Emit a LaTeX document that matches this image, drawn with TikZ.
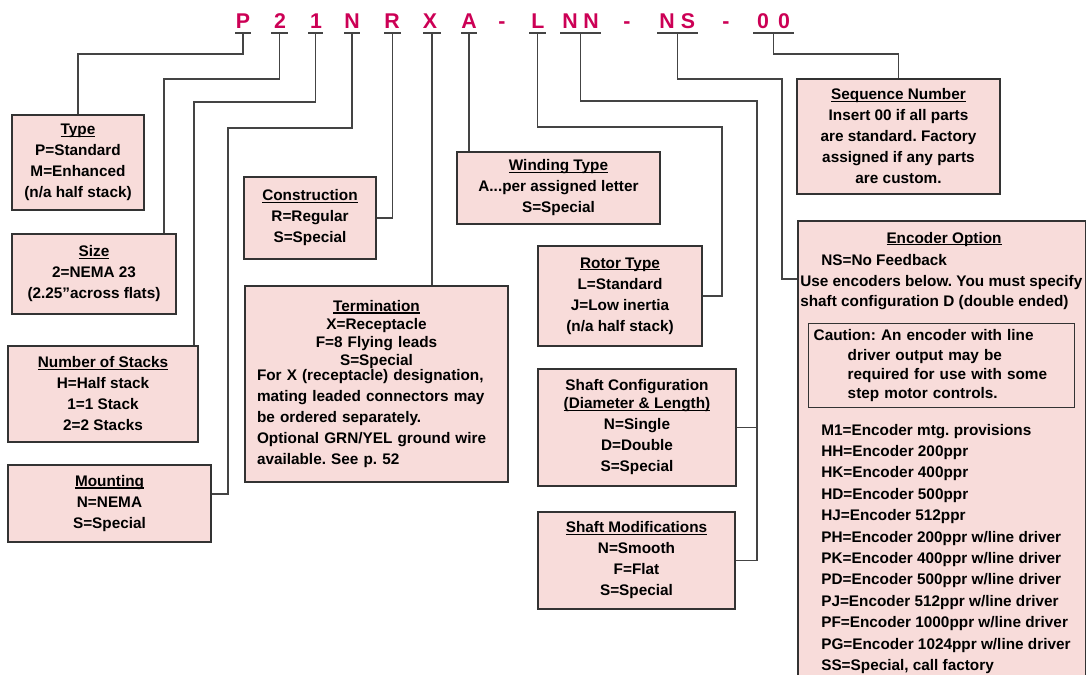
\documentclass[tikz,border=0pt]{standalone}
\usepackage{fontspec}
\setmainfont{Liberation Sans}
\definecolor{codered}{RGB}{204,0,85}
\definecolor{boxfill}{RGB}{248,220,218}
\definecolor{boxline}{RGB}{51,51,51}
\definecolor{wire}{RGB}{68,68,68}
\setlength\parindent{0pt}
\frenchspacing
\newlength\ttlwd
\newcommand\ttl[1]{\settowidth\ttlwd{#1}\makebox[0pt][l]{\rule[-1.6pt]{\ttlwd}{0.9pt}}#1}
\begin{document}
\begin{tikzpicture}[x=0.75pt, y=-0.75pt,
        codeltr/.style={text=codered, font=\fontsize{16}{16}\selectfont\bfseries, anchor=base, inner sep=0pt},
        box/.style={draw=boxline, fill=boxfill, line width=1.4pt, align=center, inner sep=0pt, font=\fontsize{11.5}{15.75}\selectfont\bfseries},
        txt/.style={font=\fontsize{11.5}{15.75}\selectfont\bfseries, inner sep=0pt},
        conn/.style={draw=wire, line width=1.4pt}
    ]
    \useasboundingbox (0,0) rectangle (1086,675);
    \clip (0,0) rectangle (1086,675);
    % Part number
    \foreach \c/\x [count=\i] in {P/243,2/280,1/316,N/352,R/392,X/430,A/469,-/502,L/538,N/570,N/591,-/627,N/667,S/688,-/726,0/763,0/784}
        \node[codeltr] (c\i) at (\x,28) {\c};
    \foreach \n/\a/\b in {P/235/251,2/271/288,1/308/323,N/344/360,R/384/401,X/423/441,A/461/477,L/529/546,NN/560/601,NS/657/698,Z/753/794} {
        \draw[conn] (\a,33) -- (\b,33);
        \coordinate (b\n) at ({(\a+\b)/2},33);
    }
    % Boxes
    \node[box, minimum width=99pt, minimum height=71.25pt] (type) at (78,162.5) {\ttl{Type}\\P=Standard\\M=Enhanced\\(n/a half stack)};
    \node[box, minimum width=123pt, minimum height=60pt] (size) at (94,274) {\ttl{Size}\\2=NEMA 23\\(2.25”across flats)};
    \node[box, minimum width=142.5pt, minimum height=72pt] (stacks) at (103,394) {\ttl{Number of Stacks}\\H=Half stack\\1=1 Stack\\2=2 Stacks};
    \node[box, minimum width=152.25pt, minimum height=57.75pt] (mount) at (109.5,503.5) {\ttl{Mounting}\\N=NEMA\\S=Special};
    \node[box, minimum width=99pt, minimum height=61.5pt] (constr) at (310,218) {\ttl{Construction}\\R=Regular\\S=Special};
    \node[box, minimum width=197.25pt, minimum height=147pt, text width=179.25pt, align=left, inner xsep=9pt] (term) at (376.5,384) {{\centering\ttl{Termination}\\[-2.25pt]X=Receptacle\\[-2.25pt]F=8 Flying leads\\[-2.25pt]S=Special\par}\vspace{-4.5pt}For X (receptacle) designation,\\mating leaded connectors may\\be ordered separately.\\Optional GRN/YEL ground wire\\available. See p. 52};
    \node[box, minimum width=152.25pt, minimum height=54pt] (wind) at (558.5,188) {\ttl{Winding Type}\\A...per assigned letter\\S=Special};
    \node[box, minimum width=123pt, minimum height=75pt] (rotor) at (620,296) {\ttl{Rotor Type}\\L=Standard\\J=Low inertia\\(n/a half stack)};
    \node[box, minimum width=148.5pt, minimum height=87.75pt] (shcfg) at (637,427.5) {Shaft Configuration\\[-2.25pt]\ttl{(Diameter \& Length)}\\N=Single\\D=Double\\S=Special};
    \node[box, minimum width=147.75pt, minimum height=72.75pt] (shmod) at (636.5,560.5) {\ttl{Shaft Modifications}\\N=Smooth\\F=Flat\\S=Special};
    \node[box, minimum width=152.25pt, minimum height=86.25pt] (seq) at (898.5,136.5) {\ttl{Sequence Number}\\Insert 00 if all parts\\are standard. Factory\\assigned if any parts\\are custom.};
    % Encoder box
    \node[box, minimum width=216pt, minimum height=360pt, anchor=north west] (enc) at (797,220) {};
    \node[txt, anchor=base] (encttl) at (944,243) {\ttl{Encoder Option}};
    \node[txt, anchor=base west] (encns) at (821,265) {NS=No Feedback};
    \node[txt, anchor=base west] (encuse) at (800,286) {Use encoders below. You must specify};
    \node[txt, anchor=base west] (encshaft) at (800,306) {shaft configuration D (double ended)};
    \node[draw=boxline, line width=1.1pt, anchor=north west, minimum width=199.5pt, minimum height=63pt, text width=192pt, inner xsep=3.75pt, inner ysep=0pt, align=left, font=\fontsize{11.5}{14.5}\selectfont\bfseries] (caution) at (808,323) {Caution: An encoder with line\\\hspace*{25.5pt}driver output may be\\\hspace*{25.5pt}required for use with some\\\hspace*{25.5pt}step motor controls.};
    \foreach \t [count=\i] in {M1=Encoder mtg. provisions,HH=Encoder 200ppr,HK=Encoder 400ppr,HD=Encoder 500ppr,HJ=Encoder 512ppr,PH=Encoder 200ppr w/line driver,PK=Encoder 400ppr w/line driver,PD=Encoder 500ppr w/line driver,PJ=Encoder 512ppr w/line driver,PF=Encoder 1000ppr w/line driver,PG=Encoder 1024ppr w/line driver,{SS=Special, call factory}}
        \node[txt, anchor=base west] (enc\i) at (821,{435+21.4*(\i-1)}) {\t};
    % Connectors
    \draw[conn] (bP) -- ++(0,21) -| (type.north);
    \draw[conn] (b2) -- ++(0,46) -| ([xshift=-9.75pt]size.north east);
    \draw[conn] (b1) -- ++(0,69) -| ([xshift=-3.75pt]stacks.north east);
    \draw[conn] (bN) -- ++(0,95) -| ([xshift=12pt,yshift=7pt]mount.east) -- ([yshift=7pt]mount.east);
    \draw[conn] (bR) |- (constr.east);
    \draw[conn] (bX) -- (bX |- term.north);
    \draw[conn] (bA) -- (bA |- wind.north);
    \draw[conn] (bL) -- ++(0,94) -| ([xshift=14.25pt]rotor.east) -- (rotor.east);
    \coordinate (jNN) at ([xshift=15.75pt]shmod.east);
    \draw[conn] (bNN) -- ++(0,68) -| (jNN) -- (shmod.east);
    \draw[conn] (shcfg.east) -- (shcfg.east -| jNN);
    \coordinate (jNS) at (782,279);
    \draw[conn] (bNS) -- ++(0,46) -| (jNS) -- (jNS -| enc.west);
    \draw[conn] (bZ) -- ++(0,21) -| (seq.north);
\end{tikzpicture}
\end{document}
